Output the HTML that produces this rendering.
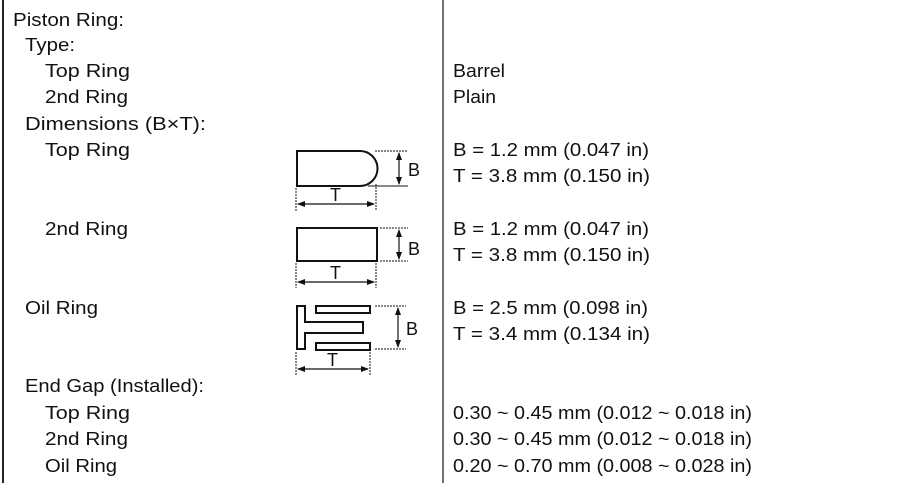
<!DOCTYPE html>
<html><head><meta charset="utf-8"><style>
html,body{margin:0;padding:0;background:#fff;}
svg{display:block;}
text{font-family:"Liberation Sans",sans-serif;font-size:18px;fill:#111;}
</style></head><body>
<svg width="900" height="483" viewBox="0 0 900 483" xmlns="http://www.w3.org/2000/svg">
<line x1="3" y1="0" x2="3" y2="483" stroke="#222" stroke-width="2"/>
<line x1="443" y1="0" x2="443" y2="483" stroke="#444" stroke-width="1.5"/>
<g>
<text x="13" y="26" textLength="111" lengthAdjust="spacingAndGlyphs">Piston Ring:</text>
<text x="25" y="51" textLength="50" lengthAdjust="spacingAndGlyphs">Type:</text>
<text x="45" y="77" textLength="85" lengthAdjust="spacingAndGlyphs">Top Ring</text>
<text x="45" y="103" textLength="83" lengthAdjust="spacingAndGlyphs">2nd Ring</text>
<text x="25" y="130" textLength="181" lengthAdjust="spacingAndGlyphs">Dimensions (B×T):</text>
<text x="45" y="156" textLength="85" lengthAdjust="spacingAndGlyphs">Top Ring</text>
<text x="45" y="235" textLength="83" lengthAdjust="spacingAndGlyphs">2nd Ring</text>
<text x="25" y="314" textLength="73" lengthAdjust="spacingAndGlyphs">Oil Ring</text>
<text x="25" y="392" textLength="179" lengthAdjust="spacingAndGlyphs">End Gap (Installed):</text>
<text x="45" y="419" textLength="85" lengthAdjust="spacingAndGlyphs">Top Ring</text>
<text x="45" y="445" textLength="83" lengthAdjust="spacingAndGlyphs">2nd Ring</text>
<text x="45" y="472" textLength="72" lengthAdjust="spacingAndGlyphs">Oil Ring</text>

<text x="453" y="77" textLength="52" lengthAdjust="spacingAndGlyphs">Barrel</text>
<text x="453" y="103" textLength="43" lengthAdjust="spacingAndGlyphs">Plain</text>
<text x="453" y="156" textLength="196" lengthAdjust="spacingAndGlyphs">B = 1.2 mm (0.047 in)</text>
<text x="453" y="182" textLength="197" lengthAdjust="spacingAndGlyphs">T = 3.8 mm (0.150 in)</text>
<text x="453" y="235" textLength="196" lengthAdjust="spacingAndGlyphs">B = 1.2 mm (0.047 in)</text>
<text x="453" y="261" textLength="197" lengthAdjust="spacingAndGlyphs">T = 3.8 mm (0.150 in)</text>
<text x="453" y="314" textLength="195" lengthAdjust="spacingAndGlyphs">B = 2.5 mm (0.098 in)</text>
<text x="453" y="340" textLength="197" lengthAdjust="spacingAndGlyphs">T = 3.4 mm (0.134 in)</text>
<text x="453" y="419" textLength="299" lengthAdjust="spacingAndGlyphs">0.30 ~ 0.45 mm (0.012 ~ 0.018 in)</text>
<text x="453" y="445" textLength="299" lengthAdjust="spacingAndGlyphs">0.30 ~ 0.45 mm (0.012 ~ 0.018 in)</text>
<text x="453" y="472" textLength="299" lengthAdjust="spacingAndGlyphs">0.20 ~ 0.70 mm (0.008 ~ 0.028 in)</text>
</g>

<defs>
<marker id="a" markerWidth="8" markerHeight="6" refX="7" refY="3" orient="auto-start-reverse" markerUnits="userSpaceOnUse">
<path d="M0,0 L8,3 L0,6 Z" fill="#111"/></marker>
</defs>
<g stroke="#111" fill="none">
<path d="M297,151 H360 A17.5,17.5 0 0 1 360,186 H297 Z" stroke-width="2"/>
<line x1="375" y1="151" x2="408" y2="151" stroke-width="1" stroke-dasharray="2,1"/>
<line x1="368" y1="186" x2="408" y2="186" stroke-width="1"/>
<line x1="399" y1="153" x2="399" y2="184" stroke-width="1.2" marker-start="url(#a)" marker-end="url(#a)"/>
<line x1="296" y1="188" x2="296" y2="211" stroke-width="1" stroke-dasharray="2,1"/>
<line x1="376" y1="184" x2="376" y2="211" stroke-width="1" stroke-dasharray="2,1"/>
<line x1="298" y1="204" x2="374" y2="204" stroke-width="1.2" marker-start="url(#a)" marker-end="url(#a)"/>
<rect x="297" y="228" width="80" height="33" stroke-width="2"/>
<line x1="380" y1="228" x2="408" y2="228" stroke-width="1" stroke-dasharray="2,1"/>
<line x1="380" y1="261" x2="408" y2="261" stroke-width="1" stroke-dasharray="2,1"/>
<line x1="399" y1="230" x2="399" y2="259" stroke-width="1.2" marker-start="url(#a)" marker-end="url(#a)"/>
<line x1="296" y1="263" x2="296" y2="288" stroke-width="1" stroke-dasharray="2,1"/>
<line x1="376" y1="263" x2="376" y2="288" stroke-width="1" stroke-dasharray="2,1"/>
<line x1="298" y1="282" x2="374" y2="282" stroke-width="1.2" marker-start="url(#a)" marker-end="url(#a)"/>
<path d="M297,306 H305 V322 H363 V333 H305 V349 H297 Z" stroke-width="2"/>
<rect x="316" y="306" width="54" height="7" stroke-width="2"/>
<rect x="316" y="343" width="54" height="7" stroke-width="2"/>
<line x1="375" y1="306" x2="406" y2="306" stroke-width="1" stroke-dasharray="2,1"/>
<line x1="375" y1="349" x2="406" y2="349" stroke-width="1" stroke-dasharray="2,1"/>
<line x1="398" y1="308" x2="398" y2="347" stroke-width="1.2" marker-start="url(#a)" marker-end="url(#a)"/>
<line x1="296" y1="352" x2="296" y2="375" stroke-width="1" stroke-dasharray="2,1"/>
<line x1="370" y1="352" x2="370" y2="375" stroke-width="1" stroke-dasharray="2,1"/>
<line x1="298" y1="369" x2="368" y2="369" stroke-width="1.2" marker-start="url(#a)" marker-end="url(#a)"/>
</g>
<text x="408" y="176" font-size="19">B</text>
<text x="408" y="255" font-size="19">B</text>
<text x="406" y="335" font-size="19">B</text>
<text x="330" y="201" font-size="16">T</text>
<text x="330" y="279" font-size="16">T</text>
<text x="327" y="366" font-size="16">T</text>
</svg>
</body></html>
